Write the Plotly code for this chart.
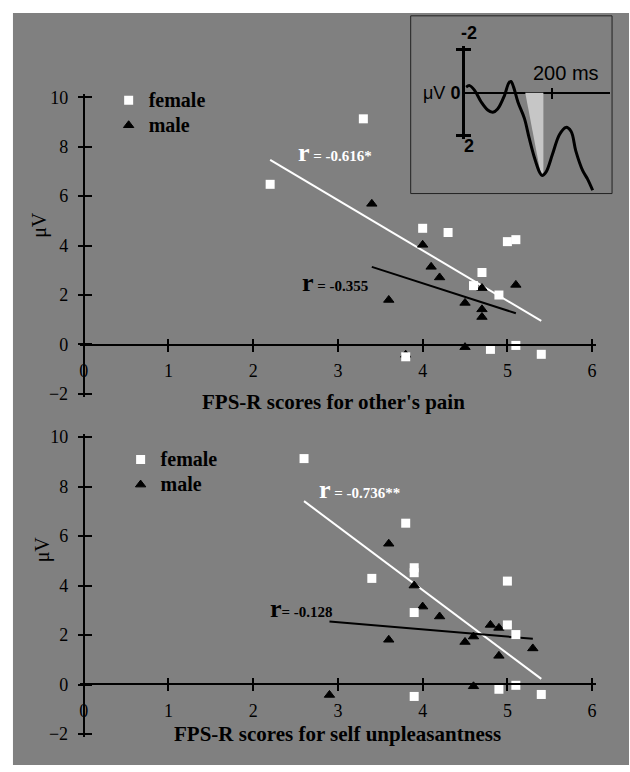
import plotly.graph_objects as go

# ---------------- data ----------------
x_ticks = [0, 1, 2, 3, 4, 5, 6]
y_ticks = [-2, 0, 2, 4, 6, 8, 10]

# Top panel: FPS-R scores for other's pain
top_female_x = [2.2, 3.3, 4.0, 4.3, 4.6, 4.7, 4.9, 5.0, 5.1, 5.1, 4.8, 5.4, 3.8]
top_female_y = [6.48, 9.13, 4.70, 4.53, 2.38, 2.91, 2.00, 4.16, 4.24, -0.04, -0.20, -0.40, -0.50]
top_male_x = [3.4, 4.0, 4.1, 4.2, 3.6, 4.5, 4.7, 4.7, 4.7, 5.1, 4.5, 3.8]
top_male_y = [5.69, 4.03, 3.14, 2.71, 1.80, 1.68, 2.28, 1.42, 1.11, 2.41, -0.11, -0.42]
top_female_fit_x = [2.2, 5.4]
top_female_fit_y = [7.47, 0.95]
top_male_fit_x = [3.4, 5.1]
top_male_fit_y = [3.14, 1.26]
top_r_female = "-0.616*"
top_r_male = "-0.355"

# Bottom panel: FPS-R scores for self unpleasantness
bot_female_x = [2.6, 3.8, 3.4, 3.9, 3.9, 3.9, 5.0, 5.0, 5.1, 5.1, 4.9, 5.4, 3.9]
bot_female_y = [9.13, 6.52, 4.29, 4.72, 4.52, 2.91, 4.18, 2.41, 2.02, -0.03, -0.19, -0.40, -0.48]
bot_male_x = [3.6, 3.9, 4.0, 4.2, 4.8, 4.9, 3.6, 4.5, 4.6, 4.9, 5.3, 4.6, 2.9]
bot_male_y = [5.69, 4.00, 3.15, 2.75, 2.41, 2.29, 1.81, 1.72, 1.94, 1.16, 1.46, -0.07, -0.42]
bot_female_fit_x = [2.6, 5.4]
bot_female_fit_y = [7.41, 0.23]
bot_male_fit_x = [2.9, 5.3]
bot_male_fit_y = [2.55, 1.85]
bot_r_female = "-0.736**"
bot_r_male = "-0.128"

# Inset ERP waveform (time in ms, amplitude in µV; negative plotted up)
wave_t = [2, 10, 22, 37, 52, 64, 75, 91, 101, 106, 112, 122, 137, 148, 160,
          172, 178, 187, 202, 218, 233, 245, 256, 272, 283, 295]
wave_uv = [-0.26, -0.33, -0.10, 0.43, 0.80, 0.91, 0.76, 0.12, -0.46, -0.52,
           -0.26, 0.43, 1.19, 2.10, 3.00, 3.69, 3.85, 3.69, 2.86, 1.95, 1.61,
           1.79, 2.70, 3.62, 4.00, 4.53]
shade_t = [139, 181, 181, 175, 139]
shade_uv = [0, 0, 3.72, 3.80, 0]
inset_uv_ticks = [-2, 2]
inset_t_ticks = [200]

# ---------------- styling / layout constants ----------------
W, H = 630, 772
GRAY = "#808080"
SERIF = "Liberation Serif"
SANS = "Liberation Sans"


def px_x(p):
    return p / W


def px_y(p):
    return 1 - p / H


# pixel geometry of the main panels (x: 0 -> 83 px, 6 -> 593 px)
X0_PX, X6_PX = 83, 593
XPAD = 0.04                      # small range padding so end ticks cross both ways
X_UNIT = (X6_PX - X0_PX) / 6
X_RANGE = [-XPAD, 6 + XPAD]
X_DOM = [px_x(X0_PX - XPAD * X_UNIT), px_x(X6_PX + XPAD * X_UNIT)]
YPAD = 0.12
Y_RANGE = [-2 - YPAD, 10 + YPAD]


def y_domain(bottom_px, top_px):
    unit = (bottom_px - top_px) / 12
    return [px_y(bottom_px + YPAD * unit), px_y(top_px - YPAD * unit)]


TOP_DOM = y_domain(394, 92)
BOT_DOM = y_domain(740.5, 438)
TOP_ZERO = px_y(344)
BOT_ZERO = px_y(690)
Y_POS = px_x(X0_PX)

fig = go.Figure()

tickfont = dict(family=SERIF, size=18, color="black")


def main_axes(xname, yname, xov, yov, ydom, zero_pos):
    fig.layout[xname] = dict(range=X_RANGE, domain=X_DOM, anchor="free", position=zero_pos,
                             showline=True, linecolor="black", linewidth=2,
                             ticks="outside", ticklen=6, tickwidth=2, tickcolor="black",
                             tickvals=x_ticks, tickfont=tickfont, ticklabelstandoff=4,
                             showgrid=False, zeroline=False, fixedrange=True)
    fig.layout[yname] = dict(range=Y_RANGE, domain=ydom, anchor="free", position=Y_POS,
                             side="left",
                             showline=True, linecolor="black", linewidth=2,
                             ticks="outside", ticklen=5, tickwidth=2, tickcolor="black",
                             tickvals=y_ticks, tickfont=tickfont, ticklabelstandoff=6,
                             showgrid=False, zeroline=False, fixedrange=True)
    fig.layout[xov] = dict(range=X_RANGE, overlaying=xname.replace("axis", ""), anchor="free",
                           position=zero_pos, ticks="inside", ticklen=6, tickwidth=2,
                           tickcolor="black", tickvals=x_ticks, showticklabels=False,
                           showline=False, showgrid=False, zeroline=False)
    fig.layout[yov] = dict(range=Y_RANGE, overlaying=yname.replace("axis", ""),
                           anchor="free", position=Y_POS, side="left",
                           ticks="inside", ticklen=7, tickwidth=2, tickcolor="black",
                           tickvals=y_ticks, showticklabels=False,
                           showline=False, showgrid=False, zeroline=False)


main_axes("xaxis", "yaxis", "xaxis7", "yaxis7", TOP_DOM, TOP_ZERO)
main_axes("xaxis2", "yaxis2", "xaxis8", "yaxis8", BOT_DOM, BOT_ZERO)


def panel(xa, ya, xov, yov, fx, fy, mx, my, ffx, ffy, mfx, mfy, legend):
    fig.add_trace(go.Scatter(x=ffx, y=ffy, mode="lines", line=dict(color="white", width=2),
                             xaxis=xa, yaxis=ya, showlegend=False, hoverinfo="skip"))
    fig.add_trace(go.Scatter(x=mfx, y=mfy, mode="lines", line=dict(color="black", width=2),
                             xaxis=xa, yaxis=ya, showlegend=False, hoverinfo="skip"))
    fig.add_trace(go.Scatter(x=mx, y=my, mode="markers",
                             name="<span style='font-size:20px'>male</span>",
                             marker=dict(symbol="triangle-up", size=9, color="black",
                                         line=dict(color="black", width=1)),
                             xaxis=xa, yaxis=ya, legend=legend, cliponaxis=False))
    fig.add_trace(go.Scatter(x=fx, y=fy, mode="markers",
                             name="<span style='font-size:20px'>female</span>",
                             marker=dict(symbol="square", size=9, color="white",
                                         line=dict(width=0)),
                             xaxis=xa, yaxis=ya, legend=legend, cliponaxis=False))
    fig.add_trace(go.Scatter(x=[], y=[], xaxis=xov, yaxis=ya, showlegend=False))
    fig.add_trace(go.Scatter(x=[], y=[], xaxis=xa, yaxis=yov, showlegend=False))


panel("x", "y", "x7", "y7", top_female_x, top_female_y, top_male_x, top_male_y,
      top_female_fit_x, top_female_fit_y, top_male_fit_x, top_male_fit_y, "legend")
panel("x2", "y2", "x8", "y8", bot_female_x, bot_female_y, bot_male_x, bot_male_y,
      bot_female_fit_x, bot_female_fit_y, bot_male_fit_x, bot_male_fit_y, "legend2")

legend_font = dict(family=SERIF, size=17, color="black", weight="bold")
fig.update_layout(
    legend=dict(x=px_x(108), y=px_y(77), xanchor="left", yanchor="top",
                bgcolor="rgba(0,0,0,0)", borderwidth=0, font=legend_font,
                traceorder="reversed", itemwidth=30, tracegroupgap=0),
    legend2=dict(x=px_x(120), y=px_y(443), xanchor="left", yanchor="top",
                 bgcolor="rgba(0,0,0,0)", borderwidth=0, font=legend_font,
                 traceorder="reversed", itemwidth=30, tracegroupgap=0),
)

# ---------------- inset ----------------
INSET_X0, INSET_X1 = px_x(411), px_x(613)
INSET_Y0, INSET_Y1 = px_y(190), px_y(9)
T_PX0, T_PX1 = 465.7, 610.7
PX_PER_MS = 0.4333
PX_PER_UV = 21.93
UV0_PX = 87.3
UV_PAD = 0.15
T_RANGE = [0, (T_PX1 - T_PX0) / PX_PER_MS]
UV_AX_RANGE = [2 + UV_PAD, -2 - UV_PAD]
UV_AX_DOM = [px_y(UV0_PX + (2 + UV_PAD) * PX_PER_UV), px_y(UV0_PX - (2 + UV_PAD) * PX_PER_UV)]

fig.layout["xaxis3"] = dict(domain=[px_x(T_PX0), px_x(T_PX1)], range=T_RANGE,
                            anchor="free", position=px_y(UV0_PX),
                            showline=True, linecolor="black", linewidth=2,
                            ticks="outside", ticklen=5, tickwidth=1.5, tickcolor="black",
                            tickvals=inset_t_ticks, showticklabels=False,
                            showgrid=False, zeroline=False)
fig.layout["xaxis5"] = dict(overlaying="x3", range=T_RANGE,
                            anchor="free", position=px_y(UV0_PX),
                            ticks="inside", ticklen=5, tickwidth=1.5, tickcolor="black",
                            tickvals=inset_t_ticks, showticklabels=False,
                            showline=False, showgrid=False, zeroline=False)
fig.layout["yaxis3"] = dict(domain=UV_AX_DOM, range=UV_AX_RANGE, anchor="x3", side="left",
                            showline=True, linecolor="black", linewidth=2.5,
                            ticks="outside", ticklen=6, tickwidth=2.5, tickcolor="black",
                            tickvals=inset_uv_ticks, showticklabels=False,
                            showgrid=False, zeroline=False)
fig.layout["yaxis6"] = dict(overlaying="y3", range=UV_AX_RANGE, anchor="x3", side="left",
                            ticks="inside", ticklen=6, tickwidth=2.5, tickcolor="black",
                            tickvals=inset_uv_ticks, showticklabels=False,
                            showline=False, showgrid=False, zeroline=False)
fig.layout["yaxis4"] = dict(domain=[INSET_Y0, INSET_Y1],
                            range=[(190 - UV0_PX) / PX_PER_UV, -(UV0_PX - 9) / PX_PER_UV],
                            anchor="x3", visible=False)

fig.add_trace(go.Scatter(x=shade_t, y=shade_uv, mode="lines", fill="toself",
                         fillcolor="#c6c6c6", line=dict(width=0),
                         xaxis="x3", yaxis="y4", showlegend=False, hoverinfo="skip"))
fig.add_trace(go.Scatter(x=wave_t, y=wave_uv, mode="lines",
                         line=dict(color="black", width=3, shape="spline"),
                         xaxis="x3", yaxis="y4", showlegend=False, hoverinfo="skip"))
fig.add_trace(go.Scatter(x=[], y=[], xaxis="x3", yaxis="y3", showlegend=False))
fig.add_trace(go.Scatter(x=[], y=[], xaxis="x5", yaxis="y3", showlegend=False))
fig.add_trace(go.Scatter(x=[], y=[], xaxis="x3", yaxis="y6", showlegend=False))

# ---------------- shapes (background + inset box) ----------------
fig.add_shape(type="rect", xref="paper", yref="paper", x0=px_x(12), x1=1,
              y0=0, y1=px_y(6), fillcolor=GRAY, line=dict(width=0), layer="below")
fig.add_shape(type="rect", xref="paper", yref="paper", x0=INSET_X0, x1=INSET_X1,
              y0=INSET_Y0, y1=INSET_Y1, fillcolor="rgba(0,0,0,0)",
              line=dict(color="#222222", width=1), layer="above")

# ---------------- annotations ----------------
ann = []


def r_label(xref, yref, x, y, val, color, eq="= "):
    ann.append(dict(xref=xref, yref=yref, x=x, y=y, xanchor="left", yanchor="middle",
                    showarrow=False,
                    text=f"<b><span style='font-size:26px'>r</span>{eq}{val}</b>",
                    font=dict(family=SERIF, size=15, color=color)))


r_label("x", "y", 2.51, 7.78, top_r_female, "white", " = ")
r_label("x", "y", 2.55, 2.50, top_r_male, "black", " = ")
r_label("x2", "y2", 2.75, 7.87, bot_r_female, "white", " = ")
r_label("x2", "y2", 2.17, 3.06, bot_r_male, "black", "= ")

title_font = dict(family=SERIF, size=21, color="black", weight="bold")
ann.append(dict(xref="paper", yref="paper", x=px_x(334), y=px_y(402), showarrow=False,
                text="FPS-R scores for other's pain", font=title_font,
                xanchor="center", yanchor="middle"))
ann.append(dict(xref="paper", yref="paper", x=px_x(338), y=px_y(740), showarrow=False,
                text="FPS-R scores for self unpleasantness", font=title_font,
                xanchor="center", yanchor="middle"))
uv_font = dict(family=SERIF, size=20, color="black")
ann.append(dict(xref="paper", yref="paper", x=px_x(39), y=px_y(222), showarrow=False,
                text="μV", textangle=-90, font=uv_font, xanchor="center", yanchor="middle"))
ann.append(dict(xref="paper", yref="paper", x=px_x(42.5), y=px_y(552), showarrow=False,
                text="μV", textangle=-90, font=uv_font, xanchor="center", yanchor="middle"))

inset_font = dict(family=SANS, size=18, color="black")
ann.append(dict(xref="paper", yref="paper", x=px_x(469), y=px_y(26), showarrow=False,
                text="<b>-2</b>", font=inset_font, xanchor="center", yanchor="middle"))
ann.append(dict(xref="paper", yref="paper", x=px_x(469), y=px_y(142), showarrow=False,
                text="<b>2</b>", font=inset_font, xanchor="center", yanchor="middle"))
ann.append(dict(xref="paper", yref="paper", x=px_x(462), y=px_y(88), showarrow=False,
                text="μV <b>0</b>", font=inset_font, xanchor="right", yanchor="middle"))
ann.append(dict(xref="paper", yref="paper", x=px_x(567), y=px_y(67), showarrow=False,
                text="200 ms", font=dict(family=SANS, size=20, color="black"),
                xanchor="center", yanchor="middle"))

fig.update_layout(
    width=W, height=H, autosize=False,
    margin=dict(l=0, r=0, t=0, b=0, pad=0),
    paper_bgcolor="white", plot_bgcolor="rgba(0,0,0,0)",
    annotations=ann, hovermode=False,
)

fig.write_html("out.html", config={"displayModeBar": False},
               post_script="document.body.style.margin='0px';"
                           "document.body.style.overflow='hidden';")
